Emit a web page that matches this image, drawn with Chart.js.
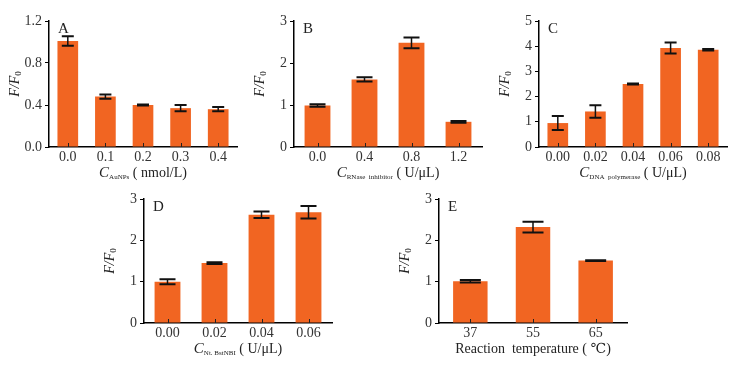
<!DOCTYPE html>
<html>
<head>
<meta charset="utf-8">
<script src="https://cdn.jsdelivr.net/npm/chart.js@4"></script>
<style>
  body { margin: 0; background: #fff; }
  #wrap { position: relative; width: 740px; height: 371px; overflow: hidden; }
  .panel { position: absolute; }
</style>
</head>
<body>
<div id="wrap"></div>
<script>
// panel A - AuNPs
const catsA = ['0.0', '0.1', '0.2', '0.3', '0.4'];
const valsA = [1.01, 0.48, 0.40, 0.37, 0.36];
const errsA = [0.045, 0.02, 0.005, 0.03, 0.02];
const ticksA = [0, 0.4, 0.8, 1.2];

// panel B - RNase inhibitor
const catsB = ['0.0', '0.4', '0.8', '1.2'];
const valsB = [0.99, 1.61, 2.48, 0.60];
const errsB = [0.03, 0.05, 0.13, 0.02];
const ticksB = [0, 1, 2, 3];

// panel C - DNA polymerase
const catsC = ['0.00', '0.02', '0.04', '0.06', '0.08'];
const valsC = [0.95, 1.41, 2.50, 3.93, 3.86];
const errsC = [0.28, 0.25, 0.02, 0.22, 0.03];
const ticksC = [0, 1, 2, 3, 4, 5];

// panel D - Nt.BstNBI
const catsD = ['0.00', '0.02', '0.04', '0.06'];
const valsD = [1.00, 1.45, 2.62, 2.68];
const errsD = [0.06, 0.02, 0.08, 0.15];
const ticksD = [0, 1, 2, 3];

// panel E - temperature
const catsE = ['37', '55', '65'];
const valsE = [1.01, 2.32, 1.51];
const errsE = [0.03, 0.13, 0.01];
const ticksE = [0, 1, 2, 3];

const letters = ['A', 'B', 'C', 'D', 'E'];
const xTitleVar = ['C', 'C', 'C', 'C', ''];
const xTitleSub = ['AuNPs', 'RNase  inhibitor', 'DNA  polymerase', 'Nt. BstNBI', ''];
const xTitleUnit = ['( nmol/L)', '( U/\u03bcL)', '( U/\u03bcL)', '( U/\u03bcL)', 'Reaction  temperature ( \u2103)'];

const BAR = 'rgb(241, 101, 34)';
const SERIF = '"Liberation Serif", "DejaVu Serif", serif';

// box = canvas placement, area = chart area inside the page
const panels = [
    { cats: catsA, vals: valsA, errs: errsA, ticks: ticksA, dec: 1,
      box: { left: 0, top: 0, w: 243, h: 185 }, area: { l: 49, t: 21, r: 237, b: 147 } },
    { cats: catsB, vals: valsB, errs: errsB, ticks: ticksB, dec: 0,
      box: { left: 243, top: 0, w: 245, h: 185 }, area: { l: 294, t: 21, r: 482, b: 147 } },
    { cats: catsC, vals: valsC, errs: errsC, ticks: ticksC, dec: 0,
      box: { left: 488, top: 0, w: 252, h: 185 }, area: { l: 539, t: 21, r: 727, b: 147 } },
    { cats: catsD, vals: valsD, errs: errsD, ticks: ticksD, dec: 0,
      box: { left: 90, top: 185, w: 260, h: 186 }, area: { l: 144, t: 199, r: 332, b: 323 } },
    { cats: catsE, vals: valsE, errs: errsE, ticks: ticksE, dec: 0,
      box: { left: 380, top: 185, w: 260, h: 186 }, area: { l: 439, t: 199, r: 627, b: 323 } }
];

const wrap = document.getElementById('wrap');

const extrasPlugin = {
    id: 'extras',
    afterDatasetsDraw(chart, args, opts) {
        const ctx = chart.ctx;
        const xs = chart.scales.x;
        const ys = chart.scales.y;
        const ca = chart.chartArea;
        const p = opts.panel;
        const meta = chart.getDatasetMeta(0);
        const barW = meta.data[0].width;
        const cap = Math.round(barW * 0.6);

        ctx.save();
        // small inward ticks on the x axis
        ctx.strokeStyle = '#222';
        ctx.lineWidth = 1;
        p.cats.forEach((c, i) => {
            const x = Math.round(xs.getPixelForValue(i)) + 0.5;
            ctx.beginPath();
            ctx.moveTo(x, ca.bottom);
            ctx.lineTo(x, ca.bottom - 4);
            ctx.stroke();
        });

        // error bars
        ctx.strokeStyle = '#111';
        p.vals.forEach((v, i) => {
            const e = p.errs[i];
            const x = xs.getPixelForValue(i);
            const y1 = ys.getPixelForValue(v + e);
            const y2 = ys.getPixelForValue(v - e);
            ctx.lineWidth = 1.5;
            ctx.beginPath();
            ctx.moveTo(x, y1);
            ctx.lineTo(x, y2);
            ctx.stroke();
            ctx.lineWidth = 2;
            ctx.beginPath();
            ctx.moveTo(x - cap / 2, y1);
            ctx.lineTo(x + cap / 2, y1);
            ctx.moveTo(x - cap / 2, y2);
            ctx.lineTo(x + cap / 2, y2);
            ctx.stroke();
        });

        // panel letter
        ctx.fillStyle = '#222';
        ctx.font = '15px ' + SERIF;
        ctx.textAlign = 'left';
        ctx.textBaseline = 'middle';
        ctx.fillText(opts.letter, ca.left + 9, ca.top + 8);

        // y title F/F0
        ctx.save();
        ctx.translate(ca.left - 34, (ca.top + ca.bottom) / 2);
        ctx.rotate(-Math.PI / 2);
        ctx.textBaseline = 'middle';
        ctx.font = 'italic 14px ' + SERIF;
        const w1 = ctx.measureText('F/F').width;
        ctx.font = '9px ' + SERIF;
        const w2 = ctx.measureText('0').width;
        let sx = -(w1 + w2) / 2;
        ctx.font = 'italic 14px ' + SERIF;
        ctx.fillText('F/F', sx, 0);
        ctx.font = '9px ' + SERIF;
        ctx.fillText('0', sx + w1, 4);
        ctx.restore();

        // x title with subscript
        const ty = ca.bottom + 26;
        const parts = [
            { t: opts.xVar, f: 'italic 15px ' + SERIF, dy: 0 },
            { t: opts.xSub, f: '7px ' + SERIF, dy: 4 },
            { t: (opts.xVar ? ' ' : '') + opts.xUnit, f: '14px ' + SERIF, dy: 0 }
        ];
        let total = 0;
        parts.forEach(pt => { ctx.font = pt.f; pt.w = ctx.measureText(pt.t).width; total += pt.w; });
        let tx = (ca.left + ca.right) / 2 - total / 2;
        ctx.textAlign = 'left';
        parts.forEach(pt => {
            ctx.font = pt.f;
            ctx.fillText(pt.t, tx, ty + pt.dy);
            tx += pt.w;
        });
        ctx.restore();
    }
};

panels.forEach((p, k) => {
    const div = document.createElement('div');
    div.className = 'panel';
    div.style.left = p.box.left + 'px';
    div.style.top = p.box.top + 'px';
    div.style.width = p.box.w + 'px';
    div.style.height = p.box.h + 'px';
    const canvas = document.createElement('canvas');
    canvas.width = p.box.w;
    canvas.height = p.box.h;
    div.appendChild(canvas);
    wrap.appendChild(div);

    const yWidth = p.area.l - p.box.left;
    const xHeight = p.box.top + p.box.h - p.area.b;
    const tickMax = p.ticks[p.ticks.length - 1];

    new Chart(canvas.getContext('2d'), {
        type: 'bar',
        data: {
            labels: p.cats,
            datasets: [{
                data: p.vals,
                backgroundColor: BAR,
                borderWidth: 0,
                categoryPercentage: 1,
                barPercentage: 0.55
            }]
        },
        options: {
            responsive: false,
            animation: false,
            layout: {
                padding: {
                    top: p.area.t - p.box.top,
                    right: p.box.left + p.box.w - p.area.r,
                    left: 0,
                    bottom: 0
                }
            },
            plugins: {
                legend: { display: false },
                tooltip: { enabled: false },
                extras: {
                    panel: p,
                    letter: letters[k],
                    xVar: xTitleVar[k],
                    xSub: xTitleSub[k],
                    xUnit: xTitleUnit[k]
                }
            },
            scales: {
                x: {
                    grid: { display: false, drawTicks: false },
                    border: { display: true, color: '#000', width: 1.5 },
                    ticks: {
                        color: '#333',
                        padding: 2,
                        font: { family: SERIF, size: 14 },
                        maxRotation: 0
                    },
                    afterFit: scale => { scale.height = xHeight; }
                },
                y: {
                    min: 0,
                    max: tickMax,
                    afterBuildTicks: scale => {
                        scale.ticks = p.ticks.map(v => ({ value: v }));
                    },
                    grid: {
                        drawOnChartArea: false,
                        drawTicks: true,
                        tickLength: 4,
                        color: '#000',
                        lineWidth: 1
                    },
                    border: { display: true, color: '#000', width: 1.5 },
                    ticks: {
                        color: '#333',
                        padding: 3,
                        font: { family: SERIF, size: 14 },
                        callback: v => Number(v).toFixed(p.dec)
                    },
                    afterFit: scale => { scale.width = yWidth; }
                }
            }
        },
        plugins: [extrasPlugin]
    });
});
</script>
</body>
</html>
